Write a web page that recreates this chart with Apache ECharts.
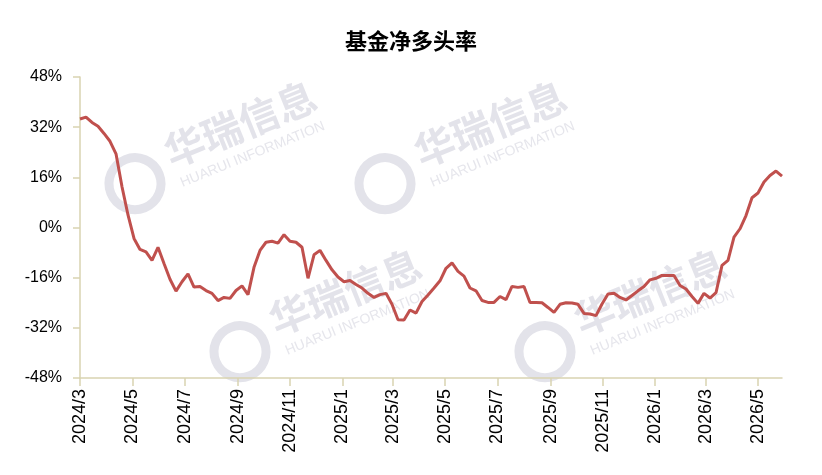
<!DOCTYPE html>
<html>
<head>
<meta charset="utf-8">
<script src="https://cdn.jsdelivr.net/npm/echarts@6/dist/echarts.min.js"></script>
<style>
html,body{margin:0;padding:0;background:#fff;}
#chart{width:822px;height:475px;}
</style>
</head>
<body>
<div id="chart"></div>
<script>
// Weekly observations (Fridays) starting 2024-03-01
const startDate = '2024-03-01';
const weekCount = 118;
const netLongRate = [
  34.6, 35.2, 33.5, 32.3, 30.0, 27.5, 23.5, 13.0, 4.0, -3.5,
  -7.0, -7.8, -10.5, -6.3, -11.5, -16.5, -20.3, -17.3, -14.8, -19.0,
  -18.8, -20.1, -21.0, -23.3, -22.3, -22.6, -20.1, -18.6, -21.4, -12.7,
  -7.3, -4.7, -4.4, -5.0, -2.3, -4.4, -4.7, -6.3, -16.2, -8.7,
  -7.3, -10.5, -13.5, -15.8, -17.3, -16.9, -18.2, -19.3, -21.0, -22.3,
  -21.4, -21.0, -24.5, -29.4, -29.5, -26.3, -27.3, -23.6, -21.5, -19.3,
  -17.0, -13.0, -11.3, -14.0, -15.5, -19.3, -20.2, -23.3, -23.9, -23.9,
  -22.0, -23.0, -18.8, -19.1, -18.8, -23.9, -23.9, -24.0, -25.5, -27.1,
  -24.5, -24.0, -24.1, -24.5, -27.4, -27.6, -28.1, -24.4, -21.2, -21.0,
  -22.3, -23.1, -21.7, -20.2, -18.8, -16.7, -16.2, -15.3, -15.3, -15.3,
  -18.5, -19.6, -22.0, -24.2, -21.0, -22.5, -20.8, -12.1, -10.5, -3.1,
  -0.4, 3.8, 9.5, 11.0, 14.5, 16.6, 18.0, 16.4
];
const tickLabels = ['2024/3','2024/5','2024/7','2024/9','2024/11','2025/1','2025/3','2025/5','2025/7','2025/9','2025/11','2026/1','2026/3','2026/5'];
const titleText = '基金净多头率';
const watermarkCn = '华瑞信息';
const watermarkEn = 'HUARUI INFORMATION';

const DAY = 86400000;
const sp = startDate.split('-').map(Number);
const t0 = Date.UTC(sp[0], sp[1]-1, sp[2]);
const times = [];
for (let i = 0; i < weekCount; i++) times.push(t0 + 7 * i * DAY);
const seriesData = times.map((t, i) => [t, netLongRate[i]]);
const tickTimes = tickLabels.map(s => { const q = s.split('/').map(Number); return Date.UTC(q[0], q[1]-1, 1); });
const xMin = t0;
const xMax = times[times.length-1];
function fmtMonth(v){ const d = new Date(v); return d.getUTCFullYear() + '/' + (d.getUTCMonth()+1); }

const axisColor = '#D9D3B1';
const fontFam = '"Liberation Sans", Arial, sans-serif';

function wm(cx, cy) {
  return {
    type: 'group', x: cx, y: cy, rotation: 22 * Math.PI / 180, silent: true, z: 0,
    children: [
      {type:'text', style:{text: watermarkCn, x: 0, y: -6, align:'center', verticalAlign:'bottom', fill:'#E3E3EA', font:'bold 40px "Noto Sans CJK SC", sans-serif'}},
      {type:'text', style:{text: watermarkEn, x: 0, y: 0, align:'center', verticalAlign:'top', fill:'#E6E6EC', font:'14px "Liberation Sans", sans-serif'}},
      {type:'circle', shape:{cx:-120, cy:-10, r:26}, style:{fill:'none', stroke:'#E3E3EA', lineWidth:9}}
    ]
  };
}

const chart = echarts.init(document.getElementById('chart'));
chart.setOption({
  animation: false,
  backgroundColor: '#fff',
  title: {
    text: titleText, left: 'center', top: 25,
    textStyle: {fontSize: 22, fontWeight: 'bold', color: '#000', fontFamily: '"Noto Sans CJK SC", sans-serif'}
  },
  graphic: [wm(250, 148), wm(500, 148), wm(355, 316), wm(660, 316)],
  grid: {left: 80, right: 40, top: 77, bottom: 97, containLabel: false},
  xAxis: [
    {
      type: 'value', position: 'bottom', min: xMin, max: xMax, scale: true,
      axisLine: {show: false}, axisTick: {show: false}, splitLine: {show: false},
      axisLabel: {
        customValues: tickTimes, rotate: 90, margin: 11, fontSize: 18, color: '#000', fontFamily: fontFam,
        formatter: fmtMonth, showMinLabel: true, showMaxLabel: true, hideOverlap: false
      }
    },
    {
      type: 'value', position: 'bottom', min: xMin, max: xMax, scale: true,
      axisLine: {show: true, onZero: true, lineStyle: {color: axisColor, width: 1.5}},
      axisTick: {show: true, customValues: tickTimes, length: 8, lineStyle: {color: axisColor, width: 1.5}},
      axisLabel: {show: false}, splitLine: {show: false}
    }
  ],
  yAxis: {
    type: 'value', min: -48, max: 48, interval: 16,
    axisLine: {show: true, lineStyle: {color: axisColor, width: 1.5}},
    axisTick: {show: true, inside: false, length: 7, lineStyle: {color: axisColor, width: 1.5}},
    splitLine: {show: false},
    axisLabel: {fontSize: 16, color: '#000', margin: 18, fontFamily: fontFam, formatter: '{value}%'}
  },
  series: [{
    type: 'line', xAxisIndex: 0, data: seriesData, symbol: 'none', smooth: false, z: 5,
    lineStyle: {color: '#C0504D', width: 3}, itemStyle: {color: '#C0504D'}
  }]
});
</script>
</body>
</html>
